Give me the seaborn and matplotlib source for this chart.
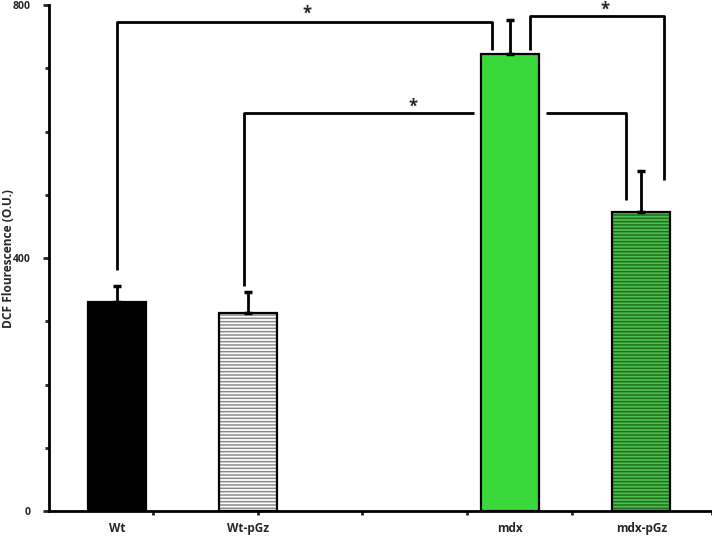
import numpy as np
import pandas as pd
import matplotlib
matplotlib.use("Agg")
import matplotlib.pyplot as plt
import matplotlib.patches as mpatches
import seaborn as sns

# data
groups = ["Wt", "Wt-pGz", "mdx", "mdx-pGz"]
slots = ["Wt", "Wt-pGz", " ", "mdx", "mdx-pGz"]   # blank slot between the two pairs
values = [330, 313, 722, 473]
errors = [26, 33, 54, 64]

face = {"Wt": "#000000", "Wt-pGz": "#ffffff", "mdx": "#3bd83b", "mdx-pGz": "#4dbf4d"}
hatch_col = {"Wt-pGz": "#8a8a8a", "mdx-pGz": "#1f6e1f"}

df = pd.DataFrame({"group": groups, "value": values})

sns.set_style("ticks")
plt.rcParams["font.family"] = ["Open Sans", "DejaVu Sans"]
plt.rcParams["hatch.linewidth"] = 1.1

fig = plt.figure(figsize=(7.12, 5.38), dpi=100)
ax = fig.add_axes([0.069, 0.050, 0.931, 0.9405])

sns.barplot(data=df, x="group", y="value", hue="group", order=slots,
            hue_order=groups, palette=face, saturation=1, width=0.44, legend=False,
            edgecolor="black", linewidth=1.6, ax=ax)

pos = {g: slots.index(g) for g in groups}

# hatch the pGz bars
for cont, g in zip(ax.containers, groups):
    for p in cont:
        if g in hatch_col:
            p.set_hatch("-----")
            if hasattr(p, "set_hatchcolor"):
                p.set_hatchcolor(hatch_col[g])
            else:
                p.set_edgecolor(hatch_col[g])
                p.set_linewidth(0)
                ax.add_patch(mpatches.Rectangle((p.get_x(), p.get_y()), p.get_width(),
                                                p.get_height(), fill=False,
                                                edgecolor="black", linewidth=1.6, zorder=3))

# upward-only error bars
xs = [pos[g] for g in groups]
ax.errorbar(xs, values, yerr=[np.zeros(len(errors)), errors], fmt="none",
            ecolor="black", elinewidth=2, capsize=3, capthick=2.5, zorder=1)

# significance brackets
lw = 2
def seg(xx, yy):
    ax.plot(xx, yy, color="black", lw=lw, solid_capstyle="butt", zorder=1, clip_on=False)

seg([0, 0, 2.86, 2.86], [381, 773, 773, 729])
seg([3.15, 3.15, 4.17, 4.17], [729, 782, 782, 523])
seg([0.97, 0.97, 2.72], [356, 629, 629])
seg([3.27, 3.88, 3.88], [629, 629, 492])

star = dict(ha="center", va="center", fontsize=12, fontweight="bold")
ax.text(1.45, 786, "*", **star)
ax.text(3.72, 792, "*", **star)
ax.text(2.26, 640, "*", **star)

ax.set_xlim(-0.52, 4.54)
ax.set_ylim(0, 800)
ax.set_yticks([0, 400, 800])
ax.set_yticks(np.arange(0, 801, 100), minor=True)
ax.set_xticks(range(len(slots)))
ax.set_xticklabels(slots)
ax.set_xticks([0.275, 1.076, 1.87, 2.67, 3.47, 4.54], minor=True)

ax.set_xlabel("")
ax.set_ylabel("DCF Flourescence (O.U.)", fontsize=8.6, fontweight="bold")
ax.yaxis.set_label_coords(-0.052, 0.5)

sns.despine(ax=ax)
for s in ["left", "bottom"]:
    ax.spines[s].set_linewidth(2)
    ax.spines[s].set_color("black")
ax.tick_params(axis="x", which="major", length=0, pad=8, labelsize=8.5)
ax.tick_params(axis="x", which="minor", length=3, width=2, direction="out")
ax.tick_params(axis="y", which="major", length=4, width=2, labelsize=7.5, pad=9)
ax.tick_params(axis="y", which="minor", length=3, width=2)
for t in ax.get_xticklabels() + ax.get_yticklabels():
    t.set_fontweight("bold")

fig.savefig("out.png", dpi=100)
